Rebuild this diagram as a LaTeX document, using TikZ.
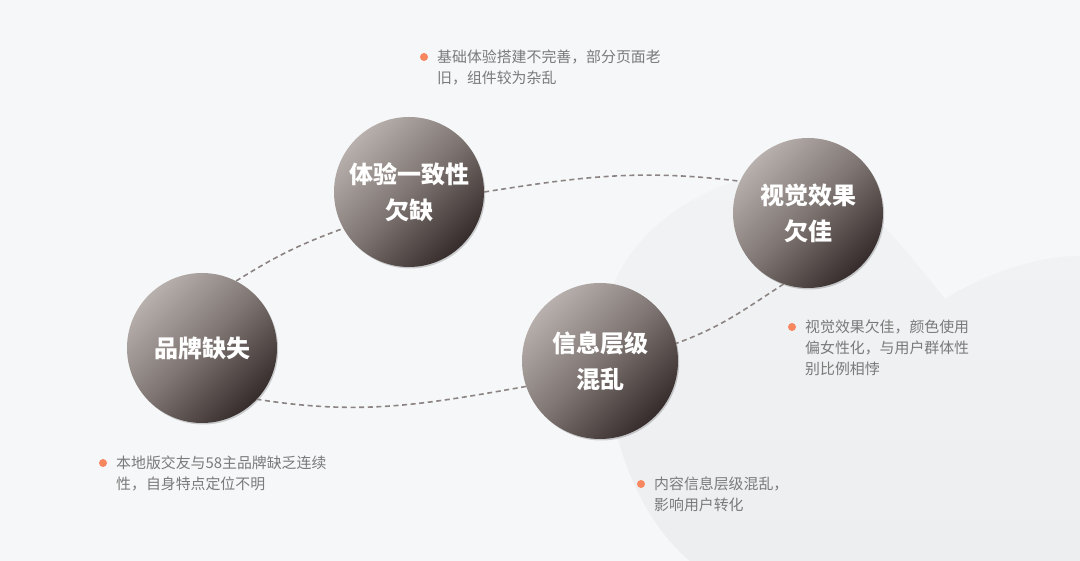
\documentclass[tikz,border=0pt]{standalone}
\usepackage{fontspec}
\setmainfont{Noto Sans CJK SC}
\usetikzlibrary{shadows}
\definecolor{bg}{HTML}{F6F7F9}
\definecolor{blobtop}{HTML}{F2F3F5}
\definecolor{blobbot}{HTML}{EDEEF0}
\definecolor{bubtop}{HTML}{B8B0AC}
\definecolor{bubmid}{HTML}{7E7572}
\definecolor{bubbot}{HTML}{352C2B}
\definecolor{dashcol}{HTML}{8C8482}
\definecolor{desccol}{HTML}{7A7A7A}
\definecolor{dotcol}{HTML}{F7875F}
\tikzset{
  bubble/.style={circle, minimum size=150pt, inner sep=0pt,
    top color=bubtop, bottom color=bubbot, middle color=bubmid, shading angle=45,
    drop shadow={shadow xshift=1.2pt, shadow yshift=-1.5pt, fill=black, opacity=0.18},
    text=white, align=center, font=\fontsize{24}{36}\selectfont\bfseries},
  link/.style={draw=dashcol, line width=1.6pt, dash pattern=on 5pt off 3.6pt},
  desc/.style={anchor=base west, inner sep=0pt, align=left, text=desccol,
    font=\fontsize{14.9}{21}\selectfont},
  bullet/.style={circle, fill=dotcol, minimum size=8pt, inner sep=0pt}
}
\begin{document}
\begin{tikzpicture}[x=1pt,y=1pt]
\useasboundingbox (0,0) rectangle (1080,561);
\fill[bg] (0,0) rectangle (1080,561);
% faint background shape
\shade[top color=blobtop, bottom color=blobbot]
  (690,0) .. controls (630,50) and (600,150) .. (605,240)
  .. controls (610,310) and (680,370) .. (760,386)
  .. controls (840,400) and (890,330) .. (945,262)
  .. controls (990,290) and (1040,305) .. (1080,305)
  -- (1080,0) -- cycle;

% bubbles
\node[bubble] (exp) at (409,369) {体验一致性\\欠缺};
\node[bubble] (vis) at (808,348) {视觉效果\\欠佳};
\node[bubble] (brand) at (202,213) {品牌缺失};
\node[bubble, minimum size=156pt] (info) at (600,200) {信息层级\\混乱};

% dashed connectors
\draw[link] (brand.63) to[out=32, in=200] (exp.209);
\draw[link] (exp.0) to[out=9, in=173] (vis.155);
\draw[link] (vis.251) to[out=213, in=20] (info.13);
\draw[link] (info.199) to[out=190, in=-9] (brand.317);

% descriptions (base anchor = baseline of last line)
\node[bullet] (dot1) at (424,504) {};
\node[desc] (d1) at (437,477.5) {基础体验搭建不完善，部分页面老\\旧，组件较为杂乱};
\node[bullet] (dot2) at (792,234) {};
\node[desc] (d2) at (805,186.5) {视觉效果欠佳，颜色使用\\偏女性化，与用户群体性\\别比例相悖};
\node[bullet] (dot3) at (103,98) {};
\node[desc] (d3) at (116,71.5) {本地版交友与58主品牌缺乏连续\\性，自身特点定位不明};
\node[bullet] (dot4) at (641,77) {};
\node[desc] (d4) at (654,50.5) {内容信息层级混乱，\\影响用户转化};
\end{tikzpicture}
\end{document}
